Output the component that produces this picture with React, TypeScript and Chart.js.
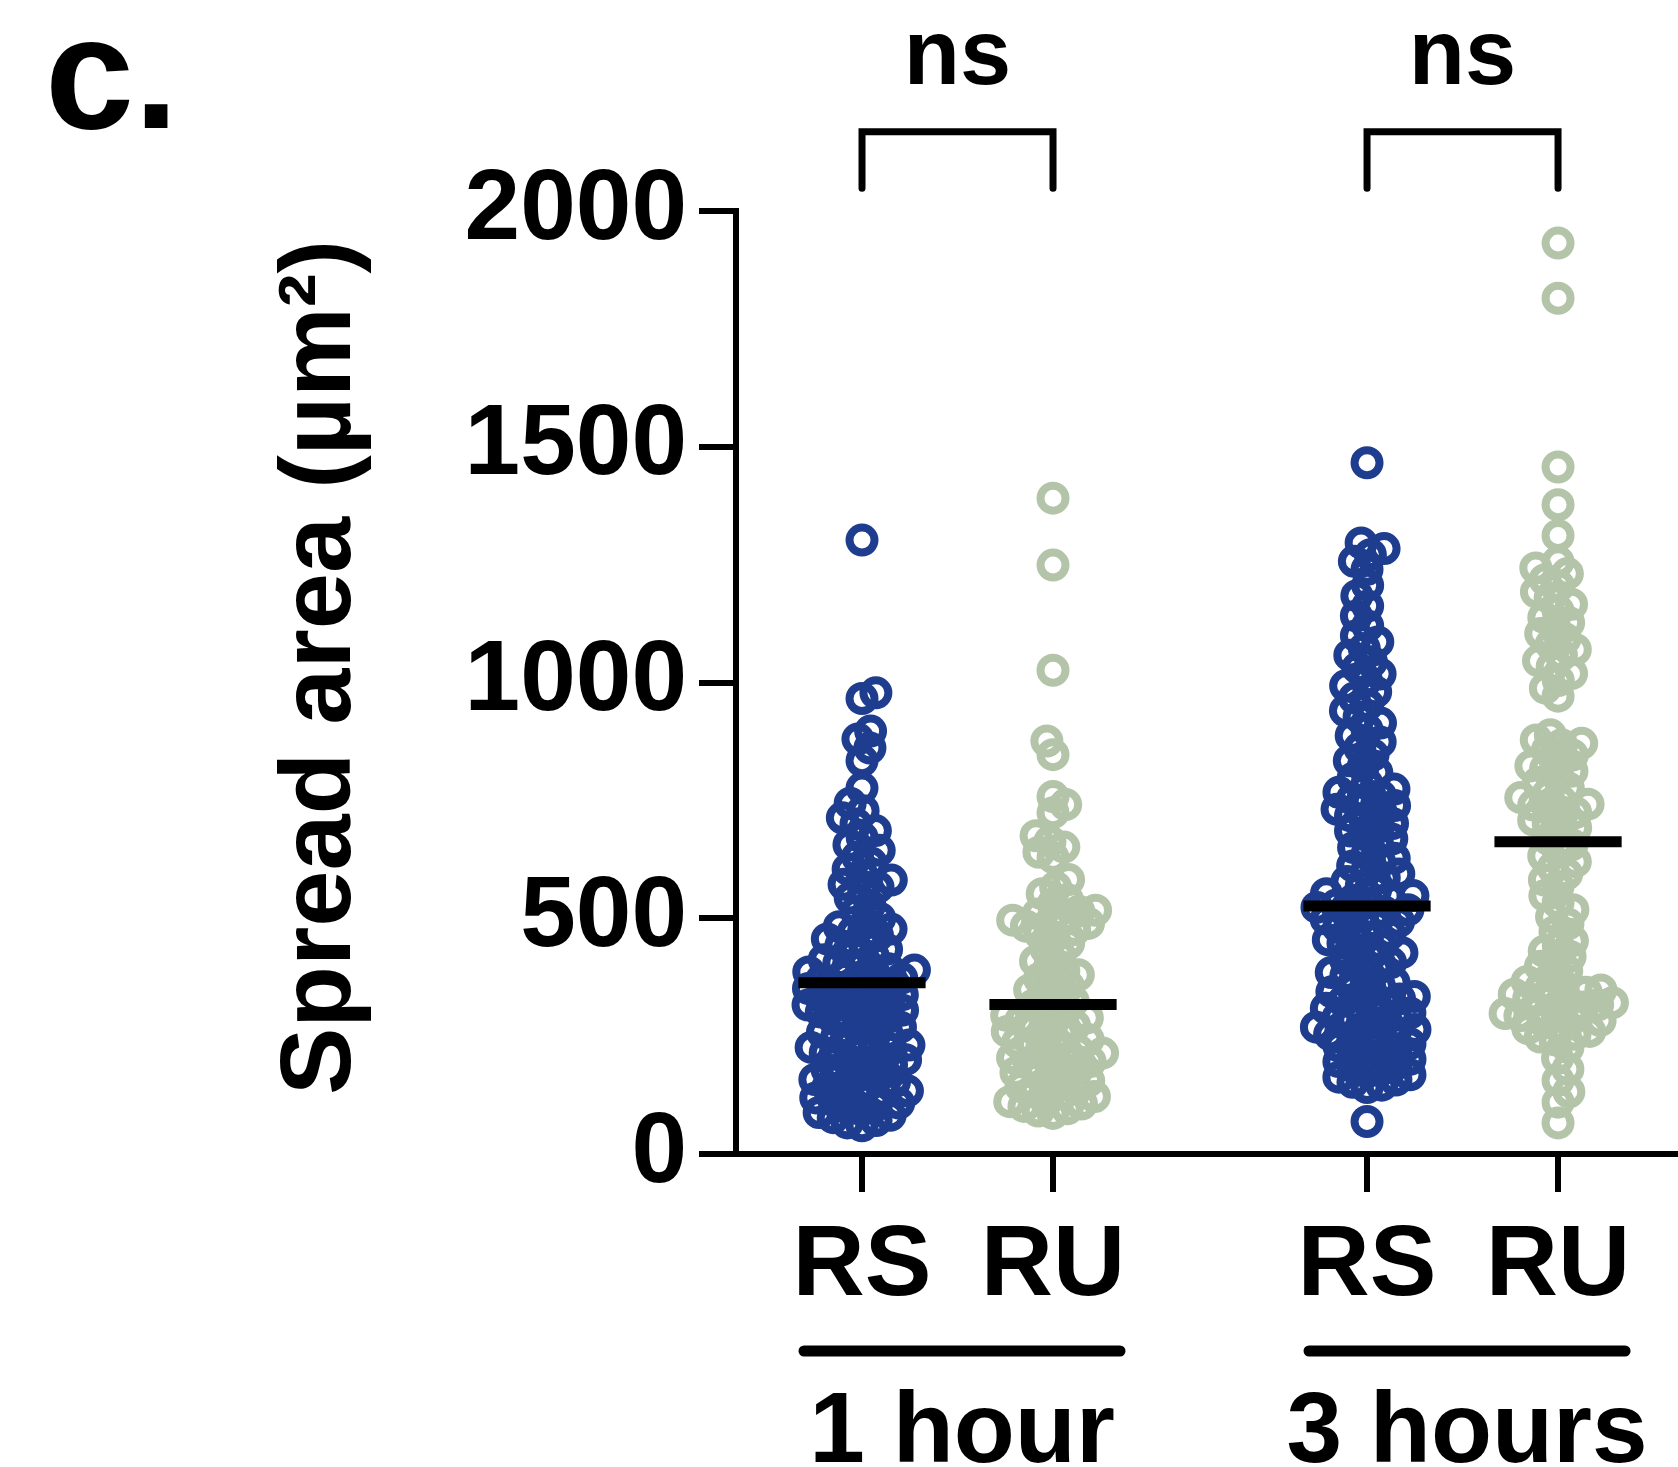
import React, { useEffect, useRef } from 'react';
import { Chart, registerables } from 'chart.js';

Chart.register(...registerables);

// ---------- data ----------
const conditionLabels = ['RS', 'RU', 'RS', 'RU'];
const groupLabels = ['1 hour', '3 hours'];
const comparisonLabels = ['ns', 'ns'];
const yTickValues = [0, 500, 1000, 1500, 2000];
const yAxisTitle = 'Spread area (µm²)';
const panelLabel = 'c.';

const rs1Hour = [
  1302, 978, 966, 897, 880, 861, 834, 776,
  744, 728, 713, 700, 686, 671, 656,
  644, 630, 617, 604, 592, 581, 572, 566,
  557, 543, 528, 514, 500, 489, 482,
  477, 471, 463, 456, 449, 442, 434, 426, 419, 412, 405, 399, 393,
  390, 386, 382, 377, 373, 369, 364, 360, 355, 351, 346, 342, 338, 333, 329, 324, 320, 316, 312, 308, 305,
  301, 296, 291, 285, 280, 275, 269, 264, 258, 253, 247, 242, 237, 231, 226, 222, 219,
  215, 210, 205, 200, 195, 189, 184, 179, 173, 168, 163, 158, 153, 147, 142, 138, 134,
  130, 124, 119, 113, 108, 103, 98, 93, 88, 82, 77, 71, 66, 60,
];
const ru1Hour = [
  1391, 1249, 1026, 876, 847,
  758, 741, 724,
  675, 663, 651, 640, 629,
  582, 566, 552, 540, 530,
  517, 515, 509, 502, 496, 492, 489, 483, 476, 468, 461,
  447, 434, 421, 409, 398, 388,
  380, 372, 364, 356, 348, 340, 332, 324, 316, 309, 301, 294,
  289, 283, 278, 272, 266, 260, 254, 248, 243, 237, 231, 225, 219, 214, 209, 204, 200, 196,
  191, 185, 179, 173, 167, 161, 155, 149, 143, 137, 131, 127,
  122, 116, 111, 106, 101, 96, 91, 86,
];
const rs3Hours = [
  1466,
  1296, 1284, 1271, 1257, 1240,
  1206, 1184, 1162, 1141, 1120,
  1099, 1086, 1072, 1058, 1044, 1031, 1018, 1005,
  993, 980, 967, 953, 940, 927, 914, 900, 887, 874, 861,
  846, 834, 822, 809, 797, 785,
  774, 767, 760, 753, 746, 739, 731, 724, 717, 709, 701, 693, 685, 677, 668, 659, 650,
  636, 627, 619, 611, 602, 594, 586, 578, 569, 560,
  552, 548, 543, 538, 533, 528, 523, 518, 513, 508, 503, 498, 493, 487,
  480, 474, 467, 461, 454, 447, 441, 434, 427, 420, 413, 406, 399, 392, 385, 378, 371, 364, 357, 350,
  344, 339, 334, 329, 324, 319, 314, 309, 304, 299, 294, 289, 284, 279, 274, 269, 264, 259, 254, 250,
  245, 240, 234, 229, 223, 218, 212, 207, 201, 196, 190, 185, 179, 174, 168, 163, 157, 152, 146, 141,
  69,
];
const ru3Hours = [
  1932, 1815, 1457, 1377, 1312,
  1256, 1243, 1231, 1218, 1205, 1192, 1179, 1166, 1152,
  1138, 1127, 1116, 1104, 1093, 1081, 1070, 1058, 1046, 1033, 1019, 1004, 988, 971,
  889, 878, 871, 868, 857, 846, 835, 823, 818, 812, 800, 788, 776, 764,
  756, 748, 742, 740, 732, 724, 716, 708, 700, 692, 684,
  668, 656, 644, 632, 620, 607, 594, 581, 568,
  548, 533, 518, 503, 488, 472,
  452, 441, 430, 419, 408, 398, 388, 377, 366,
  357, 352, 348, 343, 339, 334, 330, 325, 321, 316, 312, 307, 303, 298, 293, 288, 283, 278, 272, 266, 260, 254, 248, 242,
  226, 203, 180, 156, 132, 110,
  66,
];
const centerLines = [363, 317, 526, 662];

// ---------- layout / style ----------
const categoryPositions = [1, 2, 3.644, 4.644];
const X_MIN = 0.3403;
const X_MAX = 5.272;
const RS_COLOR = '#1f3d8f';
const RU_COLOR = '#b3c4a9';
const FONT = '"Liberation Sans", Arial, Helvetica, sans-serif';
const PX_PER_Y = 943 / 2000;
const PX_PER_X = 191;
const SWARM_DIST = 15;
const BRACKET_TOP = 2168;
const BRACKET_BOTTOM = 2048;
const AXIS_W = 6;

function swarmOffsets(values: number[], minDist: number): number[] {
  const order = values.map((_, i) => i).sort((a, b) => values[a] - values[b]);
  const placed: { x: number; y: number }[] = [];
  const out = new Array(values.length).fill(0);
  const d2 = minDist * minDist;
  order.forEach((i, k) => {
    const y = values[i] * PX_PER_Y;
    const cands = [0];
    for (const p of placed) {
      const dy = Math.abs(p.y - y);
      if (dy < minDist) {
        const dx = Math.sqrt(d2 - dy * dy);
        cands.push(p.x + dx, p.x - dx);
      }
    }
    const sign = k % 2 === 0 ? 1 : -1;
    cands.sort((a, b) => Math.abs(a) - Math.abs(b) || sign * (b - a));
    let best = 0;
    for (const c of cands) {
      let ok = true;
      for (const p of placed) {
        const dx = c - p.x;
        const dy = y - p.y;
        if (dx * dx + dy * dy < d2 - 0.01) {
          ok = false;
          break;
        }
      }
      if (ok) {
        best = c;
        break;
      }
    }
    placed.push({ x: best, y });
    out[i] = best / PX_PER_X;
  });
  return out;
}

const extrasPlugin = {
  id: 'extras',
  afterDraw(chart: any) {
    const { ctx, chartArea } = chart;
    const xs = chart.scales.x;
    const ys = chart.scales.y;
    ctx.save();
    ctx.fillStyle = '#000';
    ctx.strokeStyle = '#000';
    ctx.textBaseline = 'alphabetic';
    // panel letter
    ctx.font = `bold 160px ${FONT}`;
    ctx.textAlign = 'left';
    ctx.fillText(panelLabel, 45, 128);
    // y axis title
    ctx.save();
    ctx.translate(350, (ys.top + ys.bottom) / 2 - 15);
    ctx.rotate(-Math.PI / 2);
    ctx.font = `bold 101px ${FONT}`;
    ctx.textAlign = 'center';
    ctx.fillText(yAxisTitle, 0, 0);
    ctx.restore();
    for (let g = 0; g < 2; g++) {
      const x1 = xs.getPixelForValue(categoryPositions[2 * g]);
      const x2 = xs.getPixelForValue(categoryPositions[2 * g + 1]);
      const yTop = ys.getPixelForValue(BRACKET_TOP);
      const yBot = ys.getPixelForValue(BRACKET_BOTTOM);
      ctx.lineWidth = 7;
      ctx.lineJoin = 'miter';
      ctx.lineCap = 'round';
      ctx.beginPath();
      ctx.moveTo(x1, yBot);
      ctx.lineTo(x1, yTop);
      ctx.lineTo(x2, yTop);
      ctx.lineTo(x2, yBot);
      ctx.stroke();
      ctx.font = `bold 92px ${FONT}`;
      ctx.textAlign = 'center';
      ctx.fillText(comparisonLabels[g], (x1 + x2) / 2, yTop - 48);
      const gy = chartArea.bottom + 197;
      const l = x1 - 58;
      const r = x2 + 67;
      ctx.lineWidth = 11;
      ctx.beginPath();
      ctx.moveTo(l, gy);
      ctx.lineTo(r, gy);
      ctx.stroke();
      ctx.font = `bold 100px ${FONT}`;
      ctx.fillText(groupLabels[g], (l + r) / 2, chartArea.bottom + 308);
    }
    ctx.restore();
  },
};

export default function App() {
  const ref = useRef<HTMLCanvasElement | null>(null);
  useEffect(() => {
    if (!ref.current) return;
    Chart.defaults.font.family = FONT;
    const groups = [rs1Hour, ru1Hour, rs3Hours, ru3Hours];
    const colors = [RS_COLOR, RU_COLOR, RS_COLOR, RU_COLOR];
    const half = 0.333;
    const lineSets = centerLines.map((m, i) => ({
      data: [
        { x: categoryPositions[i] - half, y: m },
        { x: categoryPositions[i] + half, y: m },
      ],
      showLine: true,
      borderColor: '#000',
      borderWidth: 11,
      borderCapStyle: 'butt',
      pointRadius: 0,
      order: 0,
    }));
    const pointSets = groups.map((vals, i) => {
      const offs = swarmOffsets(vals, SWARM_DIST);
      return {
        data: vals.map((v, j) => ({ x: categoryPositions[i] + offs[j], y: v })),
        showLine: false,
        pointStyle: 'circle',
        pointRadius: 12.5,
        pointBorderWidth: 8,
        borderColor: colors[i],
        pointBorderColor: colors[i],
        backgroundColor: 'rgba(0,0,0,0)',
        pointBackgroundColor: 'rgba(0,0,0,0)',
        order: 1,
        clip: false,
      };
    });
    const chart = new Chart(ref.current, {
      type: 'scatter',
      data: { datasets: [...lineSets, ...pointSets] as any },
      options: {
        responsive: false,
        animation: false,
        events: [],
        layout: { autoPadding: false, padding: { top: 211, left: 0, right: 0, bottom: 0 } },
        plugins: { legend: { display: false }, tooltip: { enabled: false } },
        scales: {
          x: {
            type: 'linear',
            min: X_MIN,
            max: X_MAX,
            afterBuildTicks: (s: any) => {
              s.ticks = categoryPositions.map((v) => ({ value: v }));
            },
            afterFit: (s: any) => {
              s.height = 313;
              s.paddingLeft = 0;
              s.paddingRight = 0;
            },
            ticks: {
              callback: (_v: any, idx: number) => conditionLabels[idx],
              font: { size: 100, weight: 'bold' },
              color: '#000',
              padding: 15,
              maxRotation: 0,
              autoSkip: false,
            },
            grid: {
              drawOnChartArea: false,
              drawTicks: true,
              tickLength: 38,
              tickWidth: AXIS_W,
              tickColor: '#000',
              color: '#000',
              lineWidth: AXIS_W,
            },
            border: { display: true, color: '#000', width: AXIS_W },
          },
          y: {
            type: 'linear',
            min: 0,
            max: 2000,
            afterBuildTicks: (s: any) => {
              s.ticks = yTickValues.map((v) => ({ value: v }));
            },
            afterFit: (s: any) => {
              s.width = 736;
              s.paddingTop = 0;
              s.paddingBottom = 0;
            },
            ticks: {
              callback: (v: any) => String(v),
              font: { size: 100, weight: 'bold' },
              color: '#000',
              padding: 12,
            },
            grid: {
              drawOnChartArea: false,
              drawTicks: true,
              tickLength: 37,
              tickWidth: AXIS_W,
              tickColor: '#000',
              color: '#000',
              lineWidth: AXIS_W,
            },
            border: { display: true, color: '#000', width: AXIS_W },
            title: { display: false, text: yAxisTitle },
          },
        },
      } as any,
      plugins: [extrasPlugin],
    });
    return () => chart.destroy();
  }, []);
  return (
    <div style={{ position: 'absolute', left: 0, top: 0, width: 1678, height: 1467, background: '#fff' }}>
      <canvas ref={ref} width={1678} height={1467} style={{ width: 1678, height: 1467, display: 'block' }} />
    </div>
  );
}
